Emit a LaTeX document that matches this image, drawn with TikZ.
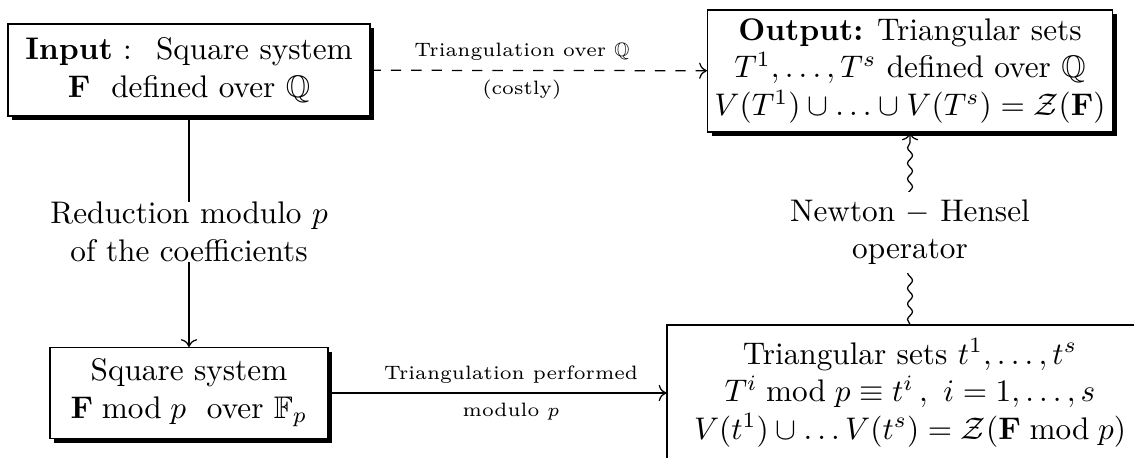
\documentclass[tikz,border=0pt]{standalone}
\usepackage{amsfonts,amsmath,amssymb}
\usepackage{tikz}
\usetikzlibrary{arrows.meta,shadows,decorations.pathmorphing}
\begin{document}
\begin{tikzpicture}[>=To,x=0.32pt,y=-0.32pt,
  frame/.style={draw,line width=0.4pt,fill=white,align=center,inner sep=0pt,
    drop shadow={shadow xshift=1.3pt,shadow yshift=-1.3pt,fill=black,opacity=1}},
  small/.style={font=\fontsize{6.2}{7.5}\selectfont,inner sep=2.9pt}]
\clip(0,0) rectangle (1134,457);
% boxes
\node[frame,minimum width=115.8pt,minimum height=29.4pt](input) at (189,70)
  {\textbf{Input} :~ Square system\\ $\mathbf{F}$~ defined over $\mathbb{Q}$};
\node[frame,minimum width=129.6pt,minimum height=39pt](output) at (910,71)
  {\textbf{Output:} Triangular sets\\ $T^1,\ldots,T^s$ defined over $\mathbb{Q}$\\
   $V(T^1)\cup\ldots\cup V(T^s)=\mathcal{Z}(\mathbf{F})$};
\node[frame,minimum width=89pt,minimum height=29.1pt](modp) at (189,393)
  {Square system\\ $\mathbf{F}\bmod p$~ over $\mathbb{F}_p$};
\node[frame,minimum width=155.5pt,minimum height=43.5pt](tri) at (910,393)
  {Triangular sets $t^1,\ldots,t^s$\\ $T^i\bmod p\equiv t^i\,,\ i=1,\ldots,s$\\
   $V(t^1)\cup\ldots V(t^s)=\mathcal{Z}(\mathbf{F}\bmod p)$};
% arrows
\draw[->,dash pattern=on 3.3pt off 3.2pt](input)--(output)
  node[pos=0.45,above,small]{Triangulation over $\mathbb{Q}$}
  node[pos=0.45,below,small]{(costly)};
\draw[->](input)--(modp)
  node[midway,fill=white,inner sep=0pt,align=center]{Reduction modulo $p$\\ of the coefficients};
\draw[->](modp)--(tri)
  node[pos=0.54,above,small]{Triangulation performed}
  node[pos=0.54,below,small]{modulo $p$};
\draw[->,decorate,decoration={snake,amplitude=0.8pt,segment length=5pt,post length=1pt}](tri)--(output)
  node[pos=0.48,fill=white,inner sep=2.6pt,align=center]{Newton $-$ Hensel\\ operator};
\end{tikzpicture}
\end{document}
